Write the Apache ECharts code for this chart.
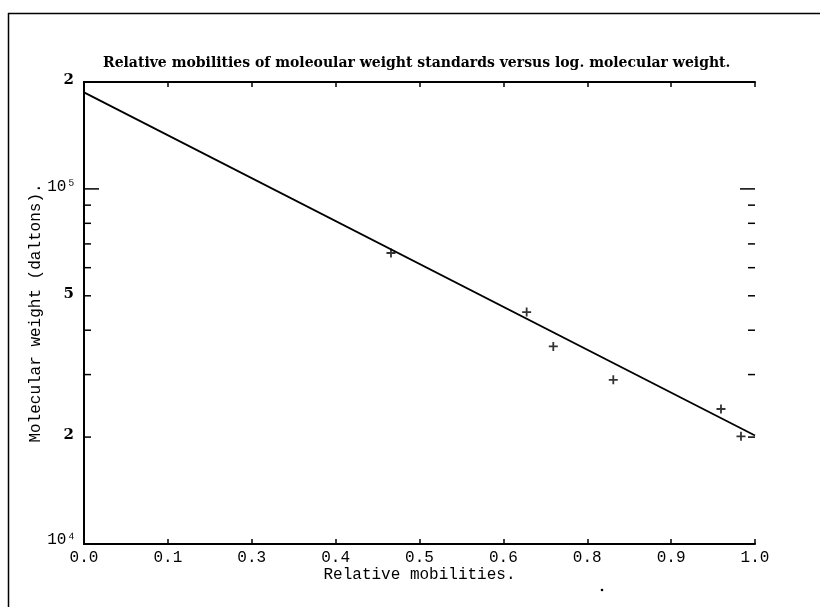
<!DOCTYPE html>
<html><head><meta charset="utf-8">
<script src="https://cdn.jsdelivr.net/npm/echarts@6/dist/echarts.min.js"></script>
<style>html,body{margin:0;padding:0;background:#fff}#c{width:820px;height:607px}</style>
</head><body><div id="c"></div>
<script>
// ---- data ----
const mobility = [0.4575, 0.6597, 0.6994, 0.7888, 0.9493, 0.9791];
const molWeight = [66000, 45000, 36000, 29000, 24000, 20100];
const fitX = [0, 1];
const fitY = [187000, 20200];
const xTickLabels = ['0.0', '0.1', '0.3', '0.4', '0.5', '0.6', '0.8', '0.9', '1.0'];
const yLabelValues = [10000, 20000, 50000, 100000, 200000];
const yLabelTexts = ['10\u2074', '2', '5', '10\u2075', '2'];
const yMajorTicks = [100000];
const yMinorTicks = [20000, 30000, 40000, 50000, 60000, 70000, 80000, 90000];

const MONO = '"Liberation Mono", "DejaVu Sans Mono", monospace';
const SERIF = '"DejaVu Serif", "Liberation Serif", serif';
const chart = echarts.init(document.getElementById('c'), null, {renderer: 'canvas'});

const tickData = yMinorTicks.map(v => [0, v, 0]).concat(yMajorTicks.map(v => [0, v, 1]));
const labelData = yLabelValues.map((v, i) => [0, v, i]);
const plus = 'path://M4,0h2v4h4v2h-4v4h-2v-4h-4v-2h4z';

const xCommon = {
  type: 'value', min: 0, max: 1, interval: 0.125,
  axisLine: {show: true, lineStyle: {color: '#000', width: 2}},
  axisTick: {show: true, inside: true, length: 5, lineStyle: {color: '#000', width: 1.5}},
  splitLine: {show: false}
};

chart.setOption({
  animation: false,
  backgroundColor: '#fff',
  title: {
    text: 'Relative mobilities of moleoular weight standards versus log. molecular weight.',
    left: 103, top: 56, padding: 0,
    textStyle: {fontFamily: SERIF, fontWeight: 'bold', fontSize: 14, color: '#000'}
  },
  grid: {left: 84, right: 65, top: 82, bottom: 63, containLabel: false},
  xAxis: [
    Object.assign({}, xCommon, {
      position: 'bottom',
      name: 'Relative mobilities.', nameLocation: 'middle', nameGap: 23, nameMoveOverlap: false,
      nameTextStyle: {fontFamily: MONO, fontSize: 16, color: '#000'},
      axisLabel: {
        show: true, margin: 6, color: '#000', fontFamily: MONO, fontSize: 16,
        formatter: v => xTickLabels[Math.round(v / 0.125)]
      }
    }),
    Object.assign({}, xCommon, {position: 'top', axisLabel: {show: false}})
  ],
  yAxis: [
    {
      type: 'log', logBase: 10, min: 10000, max: 200000, position: 'left',
      name: 'Molecular weight (daltons).', nameLocation: 'middle', nameGap: 40, nameMoveOverlap: false,
      nameTextStyle: {fontFamily: MONO, fontSize: 16, color: '#000'},
      axisLine: {show: true, lineStyle: {color: '#000', width: 2}},
      axisTick: {show: false}, axisLabel: {show: false}, splitLine: {show: false}
    },
    {
      type: 'log', logBase: 10, min: 10000, max: 200000, position: 'right',
      axisLine: {show: true, lineStyle: {color: '#000', width: 2}},
      axisTick: {show: false}, axisLabel: {show: false}, splitLine: {show: false}
    }
  ],
  graphic: [
    {type: 'line', shape: {x1: 8.5, y1: 13, x2: 8.5, y2: 607}, style: {stroke: '#000', lineWidth: 1.5}},
    {type: 'line', shape: {x1: 8, y1: 13.5, x2: 820, y2: 13.5}, style: {stroke: '#000', lineWidth: 1.5}},
    {type: 'circle', shape: {cx: 602, cy: 590, r: 1.3}, style: {fill: '#000'}}
  ],
  series: [
    {
      type: 'line', xAxisIndex: 0, yAxisIndex: 0,
      data: fitX.map((x, i) => [x, fitY[i]]),
      symbol: 'none', lineStyle: {color: '#000', width: 1.8}, silent: true
    },
    {
      type: 'scatter', xAxisIndex: 0, yAxisIndex: 0,
      data: mobility.map((x, i) => [x, molWeight[i]]),
      symbol: plus, symbolSize: 9, itemStyle: {color: '#000'}
    },
    {
      type: 'custom', xAxisIndex: 0, yAxisIndex: 0, clip: false, silent: true,
      data: tickData,
      renderItem: function (params, api) {
        const v = api.value(1);
        const len = api.value(2) ? 15 : 7;
        const pL = api.coord([0, v]);
        const pR = api.coord([1, v]);
        return {type: 'group', children: [
          {type: 'line', shape: {x1: pL[0], y1: pL[1], x2: pL[0] + len, y2: pL[1]}, style: {stroke: '#000', lineWidth: 1.5}},
          {type: 'line', shape: {x1: pR[0], y1: pR[1], x2: pR[0] - len, y2: pR[1]}, style: {stroke: '#000', lineWidth: 1.5}}
        ]};
      }
    },
    {
      type: 'custom', xAxisIndex: 0, yAxisIndex: 0, clip: false, silent: true,
      data: labelData,
      renderItem: function (params, api) {
        const v = api.value(1);
        const i = api.value(2);
        const p = api.coord([0, v]);
        const big = (i === 0 || i === 3);
        return {type: 'text', x: p[0] - (big ? 8 : 10), y: p[1] - (i === 0 ? 4 : 2), style: {
          text: yLabelTexts[i], textAlign: 'right', textVerticalAlign: 'middle',
          fill: '#000', font: big ? ('16px ' + MONO) : ('bold 15px ' + SERIF)
        }};
      }
    }
  ]
});
</script></body></html>
